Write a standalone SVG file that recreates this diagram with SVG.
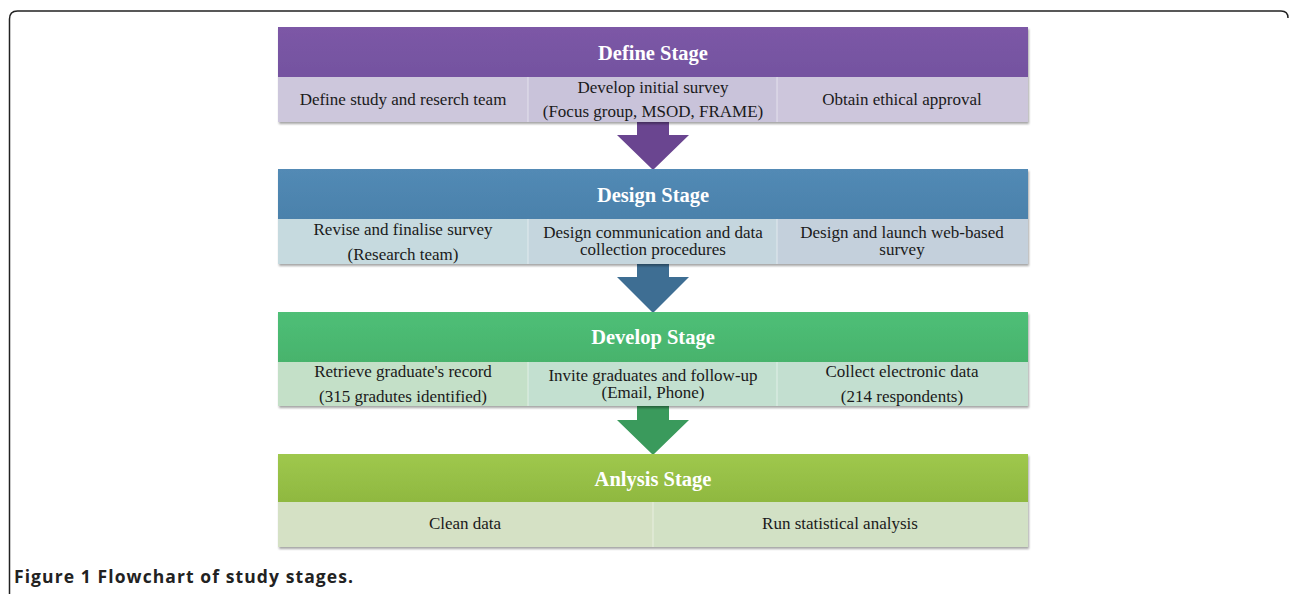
<svg xmlns="http://www.w3.org/2000/svg" width="1290" height="594" viewBox="0 0 1290 594">
<style>
.hd{font-family:"Liberation Serif",serif;font-weight:bold;font-size:20.5px;fill:#fff;text-anchor:middle}
.tx{font-family:"Liberation Serif",serif;font-size:17px;fill:#1a1a1a;text-anchor:middle}
.cap{font-family:"Open Sans","Liberation Sans",sans-serif;font-weight:bold;font-size:17.5px;fill:#222}
.div{stroke:#ffffff;stroke-opacity:0.5;stroke-width:1}
</style>
<defs>
<linearGradient id="gP" x1="0" y1="0" x2="0" y2="1"><stop offset="0" stop-color="#7c58a6"/><stop offset="1" stop-color="#7452a0"/></linearGradient>
<linearGradient id="gB" x1="0" y1="0" x2="0" y2="1"><stop offset="0" stop-color="#528ab5"/><stop offset="1" stop-color="#4b81ab"/></linearGradient>
<linearGradient id="gG" x1="0" y1="0" x2="0" y2="1"><stop offset="0" stop-color="#4fbf77"/><stop offset="1" stop-color="#47b36c"/></linearGradient>
<linearGradient id="gL" x1="0" y1="0" x2="0" y2="1"><stop offset="0" stop-color="#9fc84d"/><stop offset="1" stop-color="#8fb840"/></linearGradient>
<filter id="ds" x="-5%" y="-20%" width="110%" height="140%"><feDropShadow dx="1" dy="2" stdDeviation="1.2" flood-color="#000" flood-opacity="0.35"/></filter>
</defs>
<path d="M9.5 594 V19 Q9.5 11 17.5 11 H1281 Q1288 11 1288 18" fill="none" stroke="#222" stroke-width="1.5"/>
<g id="connectors">
<path d="M637 122 H669 V135 H689 L653 170 L617 135 H637 Z" fill="#6a4590"/>
<path d="M637 264 H669 V277 H689 L653 313 L617 277 H637 Z" fill="#3e6e93"/>
<path d="M637 406 H669 V420 H689 L653 455 L617 420 H637 Z" fill="#3a9a5c"/>
</g>
<g id="define" filter="url(#ds)">
<rect x="278" y="27" width="750" height="50" fill="url(#gP)"/>
<rect x="278" y="77" width="250" height="45" fill="#cdc7dc"/>
<rect x="528" y="77" width="249" height="45" fill="#c9c3da"/>
<rect x="777" y="77" width="251" height="45" fill="#cdc6dc"/>
</g>
<g>
<line class="div" x1="528" y1="77" x2="528" y2="122"/><line class="div" x1="777" y1="77" x2="777" y2="122"/>
<text class="hd" x="653" y="60">Define Stage</text>
<text class="tx" x="403" y="105">Define study and reserch team</text>
<text class="tx" x="653" y="93">Develop initial survey</text>
<text class="tx" x="653" y="117">(Focus group, MSOD, FRAME)</text>
<text class="tx" x="902" y="105">Obtain ethical approval</text>
</g>
<g id="design" filter="url(#ds)">
<rect x="278" y="169" width="750" height="50" fill="url(#gB)"/>
<rect x="278" y="219" width="250" height="45" fill="#c6dadf"/>
<rect x="528" y="219" width="249" height="45" fill="#c5d6de"/>
<rect x="777" y="219" width="251" height="45" fill="#c4d0dc"/>
</g>
<g>
<line class="div" x1="528" y1="219" x2="528" y2="264"/><line class="div" x1="777" y1="219" x2="777" y2="264"/>
<text class="hd" x="653" y="202">Design Stage</text>
<text class="tx" x="403" y="235">Revise and finalise survey</text>
<text class="tx" x="403" y="260">(Research team)</text>
<text class="tx" x="653" y="238">Design communication and data</text>
<text class="tx" x="653" y="255">collection procedures</text>
<text class="tx" x="902" y="238">Design and launch web-based</text>
<text class="tx" x="902" y="255">survey</text>
</g>
<g id="develop" filter="url(#ds)">
<rect x="278" y="312" width="750" height="50" fill="url(#gG)"/>
<rect x="278" y="362" width="250" height="44" fill="#c4e0c8"/>
<rect x="528" y="362" width="249" height="44" fill="#c3e0d0"/>
<rect x="777" y="362" width="251" height="44" fill="#c3dfd0"/>
</g>
<g>
<line class="div" x1="528" y1="362" x2="528" y2="406"/><line class="div" x1="777" y1="362" x2="777" y2="406"/>
<text class="hd" x="653" y="344">Develop Stage</text>
<text class="tx" x="403" y="377">Retrieve graduate's record</text>
<text class="tx" x="403" y="402">(315 gradutes identified)</text>
<text class="tx" x="653" y="381">Invite graduates and follow-up</text>
<text class="tx" x="653" y="398">(Email, Phone)</text>
<text class="tx" x="902" y="377">Collect electronic data</text>
<text class="tx" x="902" y="402">(214 respondents)</text>
</g>
<g id="anlysis" filter="url(#ds)">
<rect x="278" y="454" width="750" height="48" fill="url(#gL)"/>
<rect x="278" y="502" width="375" height="45" fill="#d5e1c5"/>
<rect x="653" y="502" width="375" height="45" fill="#d2e1c5"/>
</g>
<g>
<line class="div" x1="653" y1="502" x2="653" y2="547"/>
<text class="hd" x="653" y="486">Anlysis Stage</text>
<text class="tx" x="465" y="529">Clean data</text>
<text class="tx" x="840" y="529">Run statistical analysis</text>
</g>
<text class="cap" x="14" y="583" textLength="339" lengthAdjust="spacing">Figure 1 Flowchart of study stages.</text>
</svg>
